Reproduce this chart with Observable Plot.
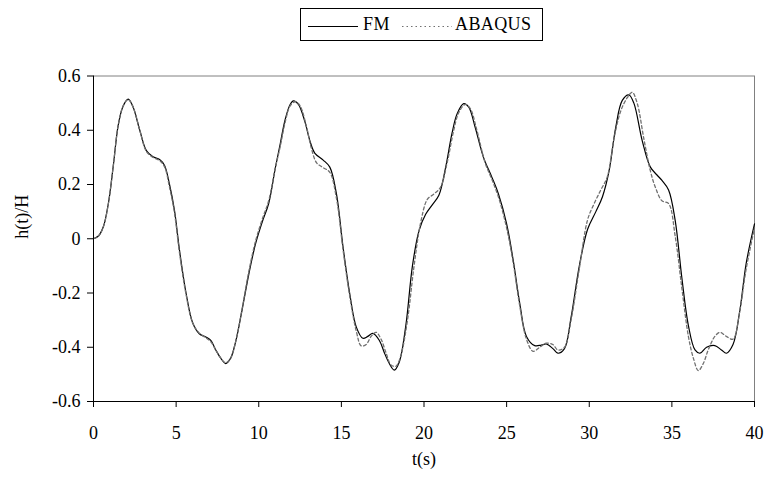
<!DOCTYPE html>
<html><head><meta charset="utf-8">
<script src="https://cdn.jsdelivr.net/npm/d3@7"></script>
<script src="https://cdn.jsdelivr.net/npm/@observablehq/plot@0.6"></script>
<style>
body{margin:0;background:#fff;font-family:"Liberation Serif","Times New Roman",serif;color:#000;}
#wrap{position:relative;width:766px;height:483px;overflow:hidden;}
#legend{position:absolute;left:300px;top:8px;width:243px;height:33px;border:1px solid #000;box-sizing:border-box;}
#legend span{position:absolute;top:4px;font-size:18px;line-height:22px;white-space:nowrap;letter-spacing:0.4px;}
#legend svg{position:absolute;left:0;top:0;}
#chart{position:absolute;left:0;top:50px;}
</style></head><body>
<div id="wrap"><div id="legend"></div><div id="chart"></div></div>
<script>
// ---- data ----
const seriesNames = ["FM", "ABAQUS"];
const xTicks = [0, 5, 10, 15, 20, 25, 30, 35, 40];
const yTicks = [-0.6, -0.4, -0.2, 0, 0.2, 0.4, 0.6];

const fmT = [0,0.3,0.6,0.9,1.2,1.5,1.8,2.1,2.4,2.8,3.2,3.6,4.0,4.3,4.6,4.9,5.2,5.6,6.0,6.4,6.8,7.1,7.4,7.7,8.0,8.3,8.6,9.0,9.4,9.8,10.2,10.6,11.0,11.3,11.6,11.9,12.1,12.4,12.8,13.1,13.4,13.9,14.3,14.7,15.1,15.5,15.9,16.3,16.6,16.9,17.3,17.6,17.9,18.2,18.5,18.9,19.3,19.7,20.1,20.5,20.9,21.3,21.7,22.0,22.4,22.7,23.1,23.6,24.1,24.5,25.0,25.4,25.8,26.2,26.7,27.1,27.4,27.8,28.1,28.5,28.9,29.4,29.9,30.4,30.8,31.2,31.6,32.0,32.4,32.7,33.2,33.7,34.1,34.4,34.8,35.2,35.6,36.0,36.4,36.7,37.1,37.6,38.0,38.3,38.7,39.1,39.5,40.0];
const fmV = [0,0.01,0.045,0.13,0.27,0.42,0.49,0.515,0.485,0.40,0.325,0.302,0.292,0.27,0.2,0.105,-0.04,-0.2,-0.31,-0.35,-0.362,-0.375,-0.41,-0.44,-0.46,-0.44,-0.38,-0.26,-0.13,-0.02,0.06,0.13,0.26,0.35,0.44,0.495,0.508,0.495,0.43,0.36,0.315,0.29,0.264,0.166,-0.03,-0.2,-0.325,-0.367,-0.36,-0.349,-0.375,-0.42,-0.46,-0.484,-0.455,-0.32,-0.1,0.03,0.09,0.125,0.16,0.26,0.39,0.46,0.498,0.486,0.41,0.30,0.228,0.166,0.055,-0.08,-0.24,-0.36,-0.394,-0.392,-0.388,-0.405,-0.422,-0.405,-0.29,-0.1,0.035,0.1,0.155,0.25,0.41,0.51,0.53,0.5,0.363,0.264,0.235,0.215,0.18,0.068,-0.142,-0.32,-0.41,-0.422,-0.40,-0.394,-0.41,-0.422,-0.39,-0.27,-0.09,0.055];

const abT = [0,0.3,0.6,0.9,1.2,1.5,1.8,2.1,2.4,2.8,3.2,3.6,4.0,4.3,4.6,4.9,5.2,5.6,6.0,6.4,6.8,7.1,7.4,7.7,8.0,8.3,8.6,9.0,9.4,9.8,10.2,10.6,11.0,11.3,11.6,11.9,12.2,12.5,12.9,13.2,13.5,13.9,14.3,14.7,15.1,15.5,15.9,16.2,16.5,16.8,17.1,17.4,17.7,18.0,18.3,18.6,19.0,19.4,19.8,20.2,20.6,21.0,21.4,21.8,22.1,22.5,22.8,23.2,23.7,24.1,24.5,25.0,25.4,25.8,26.2,26.6,27.0,27.4,27.8,28.1,28.5,28.9,29.4,29.9,30.3,30.7,31.1,31.5,31.9,32.3,32.6,32.9,33.3,33.7,34.0,34.4,34.8,35.2,35.6,36.0,36.3,36.6,36.9,37.2,37.6,37.9,38.3,38.7,39.1,39.5,40.0];
const abV = [0,0.01,0.045,0.13,0.27,0.42,0.49,0.513,0.485,0.40,0.322,0.300,0.288,0.265,0.19,0.095,-0.05,-0.205,-0.31,-0.348,-0.365,-0.38,-0.41,-0.44,-0.457,-0.44,-0.38,-0.255,-0.12,-0.01,0.07,0.14,0.26,0.34,0.43,0.49,0.505,0.49,0.41,0.33,0.28,0.262,0.245,0.15,-0.04,-0.21,-0.34,-0.395,-0.39,-0.36,-0.345,-0.37,-0.42,-0.465,-0.47,-0.43,-0.3,-0.1,0.06,0.145,0.165,0.19,0.28,0.4,0.465,0.495,0.48,0.40,0.28,0.22,0.155,0.04,-0.09,-0.25,-0.37,-0.415,-0.40,-0.385,-0.39,-0.41,-0.40,-0.3,-0.11,0.07,0.13,0.18,0.23,0.37,0.47,0.52,0.54,0.5,0.37,0.25,0.19,0.14,0.13,0.01,-0.18,-0.36,-0.44,-0.486,-0.46,-0.41,-0.36,-0.345,-0.36,-0.37,-0.27,-0.11,0.04];

// ---- tables built from the arrays ----
const fm = fmT.map((t, i) => ({t, v: fmV[i]}));
const ab = abT.map((t, i) => ({t, v: abV[i]}));

const fmt = d => d === 0 ? "0" : d.toFixed(1);

const chart = Plot.plot({
  width: 766, height: 433,
  marginTop: 25.5, marginBottom: 82, marginLeft: 93, marginRight: 12,
  style: {fontFamily: '"Liberation Serif", "Times New Roman", serif', fontSize: "18px", color: "#000", background: "#fff", overflow: "visible"},
  x: {domain: [0, 40]},
  y: {domain: [-0.6, 0.6]},
  marks: [
    Plot.ruleY([0.6], {stroke: "#808080", strokeWidth: 1}),
    Plot.ruleX([40], {stroke: "#808080", strokeWidth: 1}),
    Plot.line(fm, {x: "t", y: "v", stroke: "#000", strokeWidth: 1.2, curve: "catmull-rom"}),
    Plot.line(ab, {x: "t", y: "v", stroke: "#707070", strokeWidth: 1.3, strokeDasharray: "3,2.5", curve: "catmull-rom"}),
    Plot.axisX({ticks: xTicks, tickSize: 6, tickPadding: 19, tickFormat: d => String(d), label: null, stroke: "#000"}),
    Plot.axisY({ticks: yTicks, tickSize: 6, tickPadding: 7, tickFormat: fmt, label: null, stroke: "#000"}),
    Plot.ruleX([0], {stroke: "#000"}),
    Plot.ruleY([-0.6], {stroke: "#000"}),
    Plot.text(["t(s)"], {frameAnchor: "bottom", dy: 63, text: d => d, fontSize: 18, fill: "#000"}),
    Plot.text(["h(t)/H"], {frameAnchor: "left", dx: -71, rotate: -90, text: d => d, fontSize: 18, fill: "#000"})
  ]
});
document.getElementById("chart").appendChild(chart);

// ---- legend (HTML above the SVG) ----
const legend = document.getElementById("legend");
legend.innerHTML =
  `<svg width="243" height="33">
     <line x1="7" x2="57" y1="17.5" y2="17.5" stroke="#000" stroke-width="1.2"></line>
     <line x1="101" x2="151" y1="17.5" y2="17.5" stroke="#707070" stroke-width="1.2" stroke-dasharray="1.5,3"></line>
   </svg>
   <span style="left:62px">${seriesNames[0]}</span>
   <span style="left:154px">${seriesNames[1]}</span>`;
</script>
</body></html>
